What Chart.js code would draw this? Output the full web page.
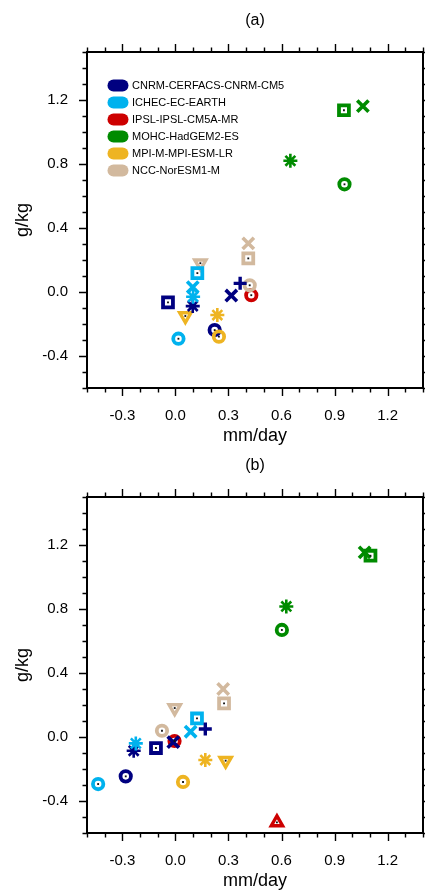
<!DOCTYPE html>
<html>
<head>
<meta charset="utf-8">
<script src="https://cdn.jsdelivr.net/npm/chart.js@4.4.0/dist/chart.umd.min.js"></script>
<style>
  html, body { margin: 0; padding: 0; background: #fff; }
  #wrap { position: relative; width: 425px; height: 893px; overflow: hidden; }
  .box { position: absolute; left: 0; width: 425px; height: 448px; }
  #boxA { top: 0; }
  #boxB { top: 445px; }
</style>
</head>
<body>
<div id="wrap">
  <div class="box" id="boxA"><canvas id="chartA" width="425" height="448"></canvas></div>
  <div class="box" id="boxB"><canvas id="chartB" width="425" height="448"></canvas></div>
</div>
<script>
var models = ['CNRM-CERFACS-CNRM-CM5', 'ICHEC-EC-EARTH', 'IPSL-IPSL-CM5A-MR',
              'MOHC-HadGEM2-ES', 'MPI-M-MPI-ESM-LR', 'NCC-NorESM1-M'];
var modelColors = ['#000080', '#00b2ee', '#cd0000', '#008b00', '#eeb422', '#d2b99e'];

var xTickLabels = ['-0.3', '0.0', '0.3', '0.6', '0.9', '1.2'];
var yTickLabels = ['-0.4', '0.0', '0.4', '0.8', '1.2'];

// [mm/day, g/kg] for each model, in the order of models; null = no marker
// panel (a)
var circleA  = [[0.222, -0.238], [0.017, -0.292], [0.429, -0.02], [0.956, 0.673], [0.246, -0.279], [0.42, 0.042]];
var squareA  = [[-0.042, -0.065], [0.124, 0.118], null, [0.953, 1.136], null, [0.412, 0.21]];
var crossA   = [[0.316, -0.022], [0.098, 0.03], null, [1.06, 1.162], null, [0.412, 0.304]];
var starA    = [[0.098, -0.088], [0.1, -0.03], null, [0.65, 0.82], [0.237, -0.144], null];
var triDownA = [null, null, null, null, [0.056, -0.15], [0.141, 0.18]];
var triUpA   = [null, null, null, null, null, null];
var plusA    = [[0.366, 0.054], null, null, null, null, null];

// panel (b)
var circleB  = [[-0.281, -0.246], [-0.437, -0.294], [-0.005, -0.025], [0.602, 0.669], [0.043, -0.281], [-0.076, 0.039]];
var squareB  = [[-0.11, -0.069], [0.122, 0.116], null, [1.103, 1.133], null, [0.275, 0.21]];
var crossB   = [[-0.012, -0.032], [0.086, 0.033], null, [1.07, 1.154], null, [0.27, 0.30]];
var starB    = [[-0.236, -0.086], [-0.224, -0.04], null, [0.627, 0.816], [0.169, -0.144], null];
var triDownB = [null, null, null, null, [0.284, -0.148], [-0.004, 0.181]];
var triUpB   = [null, null, [0.574, -0.534], null, null, null];
var plusB    = [[0.169, 0.05], null, null, null, null, null];

var FONT = '"Liberation Sans", Arial, Helvetica, sans-serif';

// how each marker kind is drawn
var markerStyle = {
  cross:   { pointStyle: 'crossRot', radius: 8, width: 3.6 },
  plus:    { pointStyle: 'cross', radius: 6.5, width: 3.4 },
  star:    { pointStyle: 'star', radius: 7, width: 2.6 },
  square:  { pointStyle: 'rect', radius: 7, width: 3.8, dot: true },
  circle:  { pointStyle: 'circle', radius: 5.2, width: 3.8, dot: true },
  triDown: { pointStyle: 'triangle', radius: 6.5, width: 3.4, dot: true, rot: 180 },
  triUp:   { pointStyle: 'triangle', radius: 6.5, width: 3.4, dot: true, rot: 0 }
};

function buildDatasets(panel) {
  var sets = [];
  var dots = [];
  Object.keys(markerStyle).forEach(function(kind) {
    var st = markerStyle[kind];
    var data = [], colors = [];
    panel[kind].forEach(function(p, i) {
      if (!p) return;
      data.push({ x: p[0], y: p[1] });
      colors.push(modelColors[i]);
      if (st.dot) dots.push({ x: p[0], y: p[1] });
    });
    sets.push({
      data: data,
      showLine: false,
      pointStyle: st.pointStyle,
      pointRotation: st.rot || 0,
      pointRadius: st.radius,
      pointHoverRadius: st.radius,
      pointBorderWidth: st.width,
      pointHoverBorderWidth: st.width,
      pointBorderColor: colors,
      pointBackgroundColor: 'rgba(0,0,0,0)'
    });
  });
  // small centre dots go on top
  sets.unshift({
    data: dots,
    showLine: false,
    pointStyle: 'rect',
    pointRadius: 1.3,
    pointHoverRadius: 1.3,
    pointBorderWidth: 0,
    pointBackgroundColor: '#111'
  });
  return sets;
}

function fmtTick(v, list) {
  var s = (Math.round(v * 10) / 10).toFixed(1);
  if (s === '-0.0') s = '0.0';
  return list.indexOf(s) >= 0 ? s : '';
}

// frame, outward major/minor ticks and panel title
var framePlugin = {
  id: 'frame',
  afterDraw: function(chart, args, opts) {
    var ctx = chart.ctx, a = chart.chartArea;
    var sx = chart.scales.x, sy = chart.scales.y;
    ctx.save();
    ctx.strokeStyle = '#000';
    ctx.lineWidth = 1.4;
    ctx.beginPath();
    sx.ticks.forEach(function(t) {
      var px = Math.round(sx.getPixelForValue(t.value)) + 0.5;
      var len = t.label ? 8 : 4.5;
      ctx.moveTo(px, a.bottom); ctx.lineTo(px, a.bottom + len);
      ctx.moveTo(px, a.top); ctx.lineTo(px, a.top - len);
    });
    sy.ticks.forEach(function(t) {
      var py = Math.round(sy.getPixelForValue(t.value)) + 0.5;
      var len = t.label ? 8 : 4.5;
      ctx.moveTo(a.left, py); ctx.lineTo(a.left - len, py);
      ctx.moveTo(a.right, py); ctx.lineTo(a.right + len, py);
    });
    ctx.stroke();
    ctx.lineWidth = 2;
    ctx.strokeRect(a.left, a.top, a.right - a.left, a.bottom - a.top);
    ctx.fillStyle = '#000';
    ctx.font = '16px ' + FONT;
    ctx.textAlign = 'center';
    ctx.textBaseline = 'middle';
    ctx.fillText(opts.text, (a.left + a.right) / 2, 21);
    ctx.restore();
  }
};

var legendPlugin = {
  id: 'modelLegend',
  afterDatasetsDraw: function(chart, args, opts) {
    if (!opts.show) return;
    var ctx = chart.ctx, a = chart.chartArea;
    ctx.save();
    ctx.lineCap = 'round';
    ctx.lineWidth = 12;
    ctx.font = '11px ' + FONT;
    ctx.textAlign = 'left';
    ctx.textBaseline = 'middle';
    models.forEach(function(name, i) {
      var y = a.top + 33.5 + i * 17;
      ctx.strokeStyle = modelColors[i];
      ctx.beginPath();
      ctx.moveTo(a.left + 26.5, y);
      ctx.lineTo(a.left + 35.5, y);
      ctx.stroke();
      ctx.fillStyle = '#000';
      ctx.fillText(name, a.left + 45, y + 0.5);
    });
    ctx.restore();
  }
};

function makeChart(id, panel, title, showLegend) {
  return new Chart(document.getElementById(id), {
    type: 'scatter',
    data: { datasets: buildDatasets(panel) },
    plugins: [framePlugin, legendPlugin],
    options: {
      responsive: false,
      animation: false,
      devicePixelRatio: 1,
      layout: { autoPadding: false, padding: { top: 52, right: 2, left: 0, bottom: 0 } },
      plugins: {
        legend: { display: false },
        tooltip: { enabled: false },
        frame: { text: title },
        modelLegend: { show: showLegend }
      },
      scales: {
        x: {
          type: 'linear', min: -0.5, max: 1.4,
          afterFit: function(s) {
            s.height = 60;
            s.paddingLeft = 0; s.paddingRight = 0;
          },
          grid: { display: false, drawTicks: false, tickLength: 0 },
          border: { display: false },
          ticks: {
            stepSize: 0.1, autoSkip: false, maxRotation: 0, minRotation: 0,
            padding: 19, color: '#000', font: { family: FONT, size: 15 },
            callback: function(v) { return fmtTick(v, xTickLabels); }
          },
          title: {
            display: true, text: 'mm/day', color: '#000',
            font: { family: FONT, size: 18 }, padding: { top: 0, bottom: 1 }
          }
        },
        y: {
          type: 'linear', min: -0.6, max: 1.5,
          afterFit: function(s) {
            s.width = 87;
            s.paddingTop = 0; s.paddingBottom = 0;
          },
          grid: { display: false, drawTicks: false, tickLength: 0 },
          border: { display: false },
          ticks: {
            stepSize: 0.1, autoSkip: false,
            padding: 19, color: '#000', font: { family: FONT, size: 15 },
            callback: function(v) { return fmtTick(v, yTickLabels); }
          },
          title: {
            display: true, text: 'g/kg', color: '#000',
            font: { family: FONT, size: 18 }, padding: { top: 12, bottom: 0 }
          }
        }
      }
    }
  });
}

var panelA = { circle: circleA, square: squareA, cross: crossA, star: starA, triDown: triDownA, triUp: triUpA, plus: plusA };
var panelB = { circle: circleB, square: squareB, cross: crossB, star: starB, triDown: triDownB, triUp: triUpB, plus: plusB };

makeChart('chartA', panelA, '(a)', true);
makeChart('chartB', panelB, '(b)', false);
</script>
</body>
</html>
